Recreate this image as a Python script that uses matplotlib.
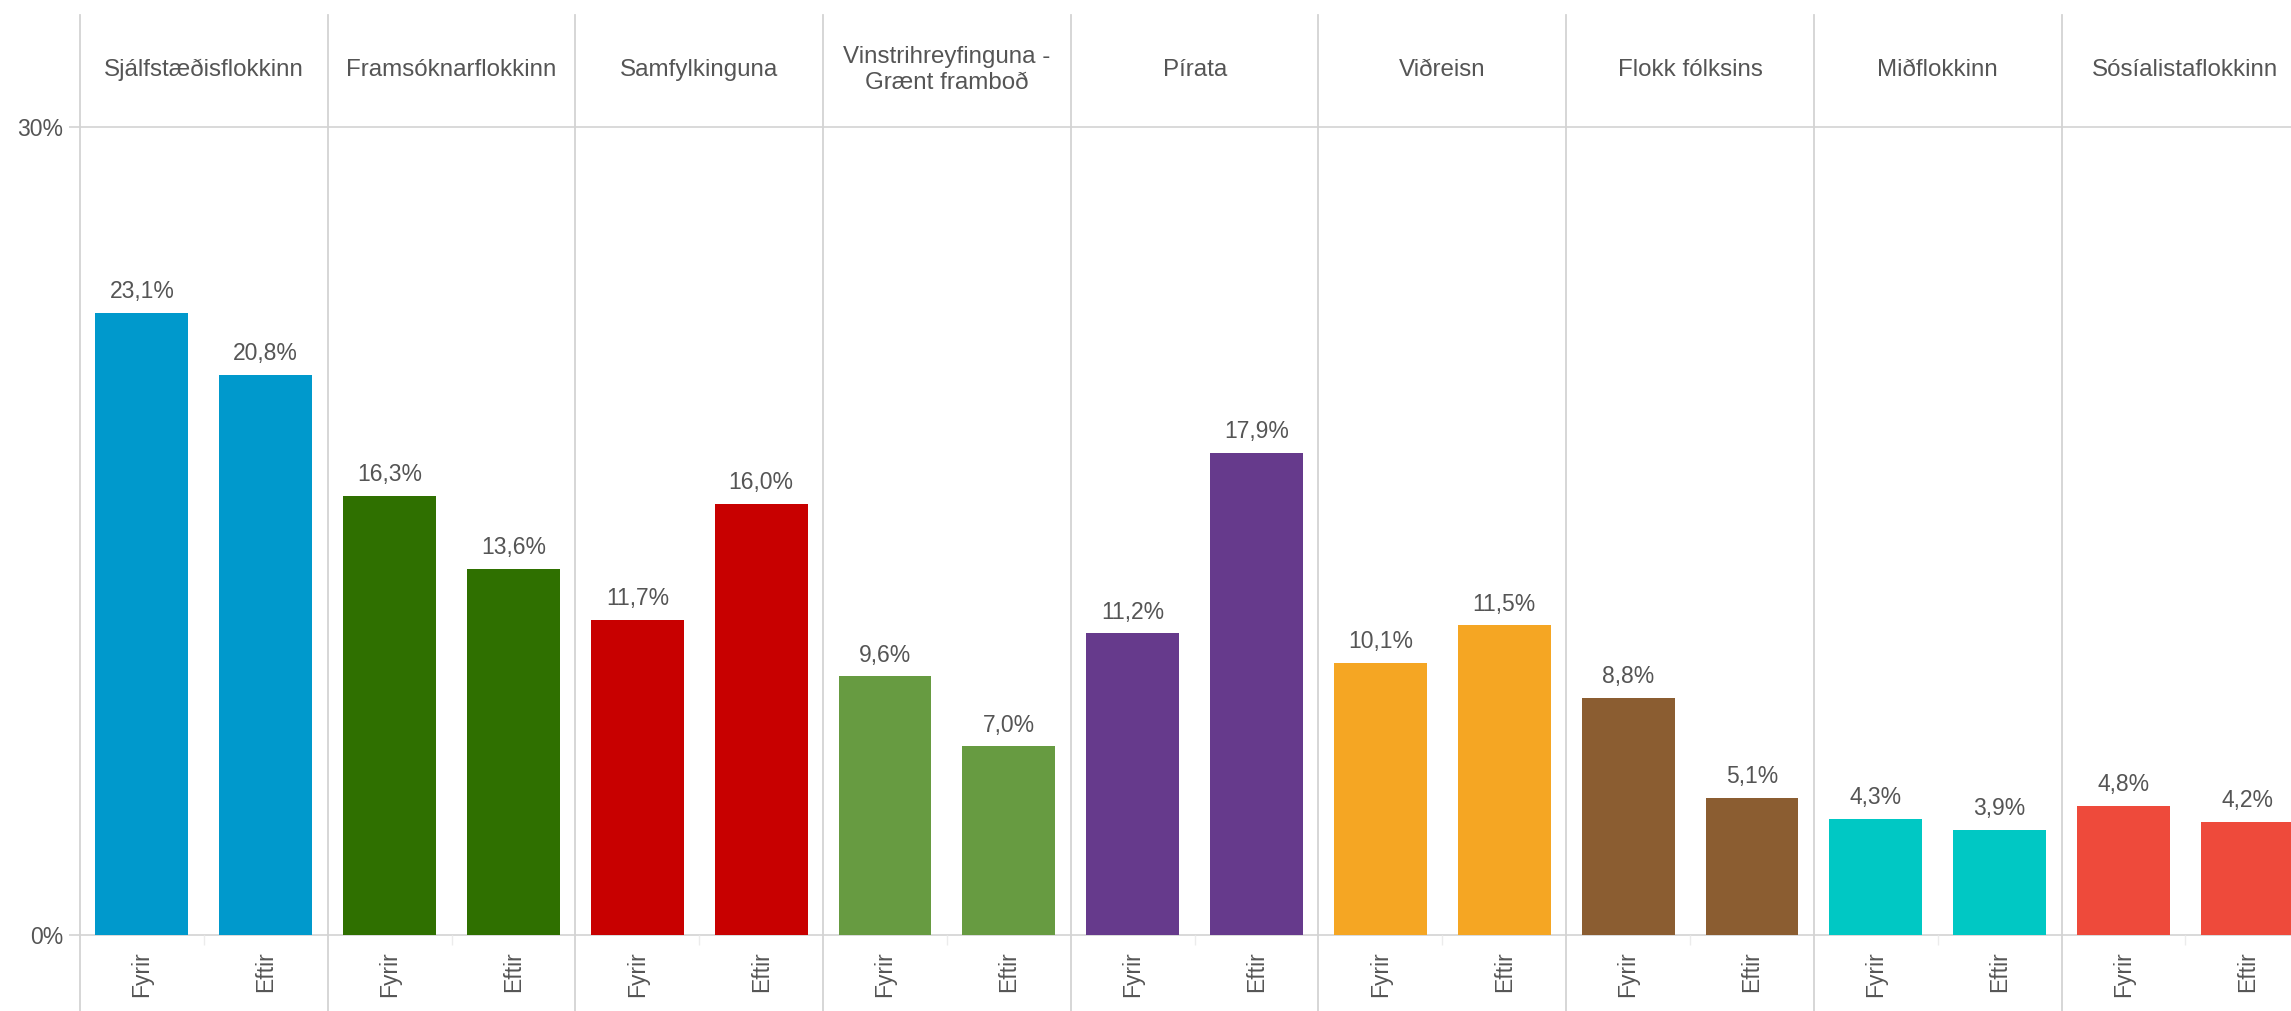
import matplotlib.pyplot as plt
import numpy as np

plt.rcParams['font.family'] = ['Liberation Sans', 'DejaVu Sans']

# Data
parties = ['Sjálfstæðisflokkinn', 'Framsóknarflokkinn', 'Samfylkinguna',
           'Vinstrihreyfinguna -\nGrænt framboð', 'Pírata', 'Viðreisn',
           'Flokk fólksins', 'Miðflokkinn', 'Sósíalistaflokkinn']
fyrir = [23.1, 16.3, 11.7, 9.6, 11.2, 10.1, 8.8, 4.3, 4.8]
eftir = [20.8, 13.6, 16.0, 7.0, 17.9, 11.5, 5.1, 3.9, 4.2]
colors = ['#0099CC', '#2F7000', '#C80000', '#679B41', '#663A8C',
          '#F5A623', '#8B5D31', '#00C8C4', '#EE4A3B']
sub_labels = ['Fyrir', 'Eftir']

text_color = '#555555'
line_color = '#d3d3d3'
fs = 16.5

W, H = 2291, 1011
fig = plt.figure(figsize=(W / 100, H / 100), dpi=100)
panel_w = 247.7
ax = fig.add_axes([80 / W, 76 / H, 9 * panel_w / W, 808 / H])

n = len(parties)
x = np.arange(2 * n)
values = [v for pair in zip(fyrir, eftir) for v in pair]
bar_colors = [c for c in colors for _ in range(2)]

ax.bar(x, values, width=0.75, color=bar_colors, zorder=2)

# value labels
for xi, v in zip(x, values):
    ax.annotate(f'{v:.1f}%'.replace('.', ','), (xi, v), xytext=(0, 7),
                textcoords='offset points', ha='center', va='bottom',
                fontsize=fs, color=text_color)

ax.set_xlim(-0.5, 2 * n - 0.5)
ax.set_ylim(0, 30)

for s in ax.spines.values():
    s.set_visible(False)

# y axis
ax.set_yticks([0, 30])
ax.set_yticklabels(['0%', '30%'])
ax.tick_params(axis='y', length=8, width=1.2, color=line_color,
               labelsize=fs, labelcolor=text_color, pad=4)

# x axis labels
ax.set_xticks(x)
ax.set_xticklabels(sub_labels * n, rotation=90)
ax.tick_params(axis='x', length=0, labelsize=fs, labelcolor=text_color, pad=12)
ax.set_xticks(np.arange(0.5, 2 * n, 2), minor=True)
ax.tick_params(axis='x', which='minor', length=7, width=1, color='#ececec')

# horizontal lines
ax.axhline(0, color=line_color, lw=1.2, zorder=1, clip_on=False)
ax.axhline(30, color=line_color, lw=1.2, zorder=1, clip_on=False)

# panel separators (extend into header and below)
top = (H - 15 - 76) / 808
bottom = -76 / 808
for b in np.arange(-0.5, 2 * n, 2):
    ax.axvline(b, ymin=bottom, ymax=top, color=line_color, lw=1.3,
               clip_on=False, zorder=1)

# header labels
trans = ax.get_xaxis_transform()
for i, name in enumerate(parties):
    ax.text(2 * i + 0.5, 1 + (127 - 70) / 808, name, transform=trans,
            ha='center', va='center', fontsize=17.4, color=text_color,
            linespacing=1.25)

fig.savefig('out.png', dpi=100)
